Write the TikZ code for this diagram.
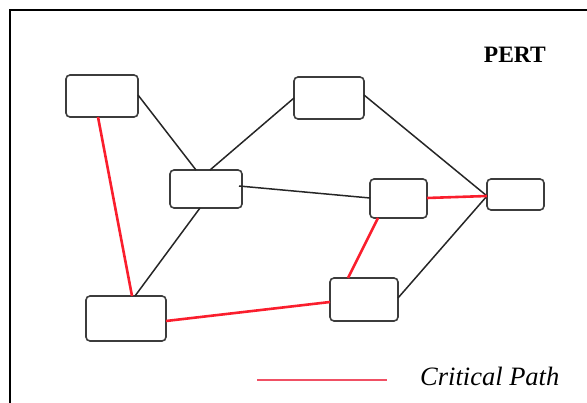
\documentclass[tikz,border=0pt]{standalone}
\usepackage{fontspec}
\setmainfont{Liberation Serif}
\definecolor{critred}{RGB}{250,30,45}
\definecolor{legred}{RGB}{240,80,100}
\definecolor{boxgray}{RGB}{60,60,60}
\begin{document}
\begin{tikzpicture}[x=1pt,y=-1pt,
  evbox/.style={draw=boxgray,line width=1.6pt,rounded corners=4pt,fill=white,inner sep=0pt},
  act/.style={draw=black!85,line width=1.5pt},
  crit/.style={draw=critred,line width=2.6pt},
]
\useasboundingbox (0,0) rectangle (587,403);
\draw[line width=1.6pt] (10,403) -- (10,10) -- (587,10);
% connector end points
\coordinate (a1) at (138,95);
\coordinate (c1) at (239,186);
\coordinate (f1) at (166,321);
\coordinate (e1) at (487,196);
\coordinate (cn1) at (196,170);
\coordinate (cn2) at (210,170);
\coordinate (cs1) at (200,208);
\coordinate (fn1) at (135,296);
\coordinate (fn2) at (132,296);
\coordinate (as1) at (98,117);
\coordinate (gn1) at (348,278);
\coordinate (ds1) at (378,218);
\coordinate (bw) at (294,98);
\coordinate (be) at (364,95);
\coordinate (dw) at (370,198);
\coordinate (de) at (427,198);
\coordinate (gw) at (330,302);
\coordinate (ge) at (398,298);
% nodes
\node[evbox,minimum width=72pt,minimum height=42pt] (A) at (102,96) {};
\node[evbox,minimum width=70pt,minimum height=42pt] (B) at (329,98) {};
\node[evbox,minimum width=72pt,minimum height=38pt] (C) at (206,189) {};
\node[evbox,minimum width=57pt,minimum height=39pt] (D) at (398.5,198.5) {};
\node[evbox,minimum width=57pt,minimum height=31pt] (E) at (515.5,194.5) {};
\node[evbox,minimum width=80pt,minimum height=45pt] (F) at (126,318.5) {};
\node[evbox,minimum width=68pt,minimum height=43pt] (G) at (364,299.5) {};
% connectors
\draw[act] (a1) -- (cn1);
\draw[act] (cn2) -- (bw);
\draw[act] (be) -- (e1);
\draw[act] (c1) -- (dw);
\draw[act] (cs1) -- (fn1);
\draw[act] (ge) -- (e1);
\draw[crit] (as1) -- (fn2);
\draw[crit] (f1) -- (gw);
\draw[crit] (gn1) -- (ds1);
\draw[crit] (de) -- (e1);
% title
\node[font=\bfseries\fontsize{23.5}{26}\selectfont,anchor=base east,inner sep=0pt] (title) at (546,63) {PERT};
% legend
\coordinate (l1) at (257,380);
\coordinate (l2) at (387,380);
\draw[draw=legred,line width=2pt] (l1) -- (l2);
\node[font=\itshape\fontsize{26.5}{30}\selectfont,anchor=base west,inner sep=0pt] (legend) at (420,386) {Critical Path};
\end{tikzpicture}
\end{document}
